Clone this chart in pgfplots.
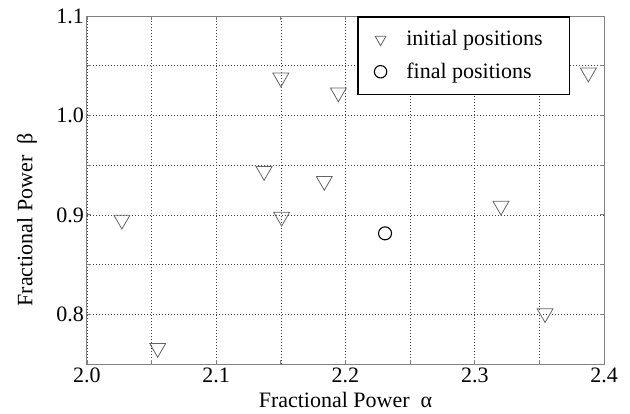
\documentclass[border=0pt]{standalone}
\usepackage{fontspec}
\setmainfont{Liberation Serif}
\usepackage{pgfplots}
\pgfplotsset{compat=1.18}
\definecolor{framegray}{RGB}{128,128,128}
\definecolor{markgray}{RGB}{100,100,100}
\begin{document}
\fontsize{22bp}{26bp}\selectfont
\begin{tikzpicture}
\path[use as bounding box] (-87bp,-50bp) rectangle (543bp,364bp);
\begin{axis}[
  at={(0,0)}, anchor=south west,
  scale only axis, width=517bp, height=348bp,
  xmin=2.0, xmax=2.4, ymin=0.75, ymax=1.1,
  xtick={2.0,2.1,2.2,2.3,2.4},
  ytick={0.8,0.9,1.0,1.1},
  minor xtick={2.05,2.15,2.25,2.35},
  minor ytick={0.85,0.95,1.05},
  xticklabel={\rmfamily\pgfmathprintnumber[fixed,fixed zerofill,precision=1,assume math mode=true]{\tick}},
  yticklabel={\rmfamily\pgfmathprintnumber[fixed,fixed zerofill,precision=1,assume math mode=true]{\tick}},
  grid=both,
  major grid style={black!75, line width=0.6bp, dash pattern=on 1.2bp off 1.8bp},
  minor grid style={black!75, line width=0.6bp, dash pattern=on 1.2bp off 1.8bp},
  axis line style={framegray, line width=1bp},
  tick style={framegray, line width=0.8bp},
  major tick length=4bp, minor tick length=4bp,
  tick align=inside,
  xticklabel style={font=\fontsize{22bp}{26bp}\selectfont, inner sep=0pt, anchor=north, yshift=-4bp},
  yticklabel style={font=\fontsize{22bp}{26bp}\selectfont, inner sep=0pt, anchor=east, xshift=-3bp},
  xlabel={Fractional Power~~α},
  ylabel={Fractional Power~~β},
  xlabel style={font=\fontsize{22bp}{26bp}\selectfont, at={(axis description cs:0.5,-0.1034)}, anchor=center, inner sep=0pt},
  ylabel style={font=\fontsize{22bp}{26bp}\selectfont, at={(axis description cs:-0.116,0.414)}, anchor=center, inner sep=0pt},
  legend style={at={(rel axis cs:0.5222,1)}, anchor=north west,
    draw=black, line width=1.6bp, fill=white,
    font=\fontsize{22bp}{26bp}\selectfont,
    inner xsep=0bp, inner ysep=11bp, row sep=9bp,
    cells={inner sep=0pt, text height=16bp, text depth=5bp},
    legend cell align=left},
  legend image code/.code={\path (0bp,0bp) (45bp,0bp); \draw[mark size=6.2bp] plot coordinates {(22bp,0bp)};},
]
\addplot[only marks, mark=triangle, mark options={rotate=180, draw=markgray, fill=white, line width=0.8bp}, mark size=9.2bp] coordinates {
(2.027,0.895)
(2.0547,0.766)
(2.1506,0.898)
(2.150,1.038)
(2.1945,1.023)
(2.137,0.944)
(2.1836,0.934)
(2.3203,0.909)
(2.3544,0.801)
(2.3879,1.043)
};
\addlegendentry{initial positions\hspace*{25bp}}
\addplot[only marks, mark=o, mark options={draw=black, line width=1.1bp}, mark size=6.5bp] coordinates {
(2.2306,0.8814)
};
\addlegendentry{final positions}
\end{axis}
\end{tikzpicture}
\end{document}
